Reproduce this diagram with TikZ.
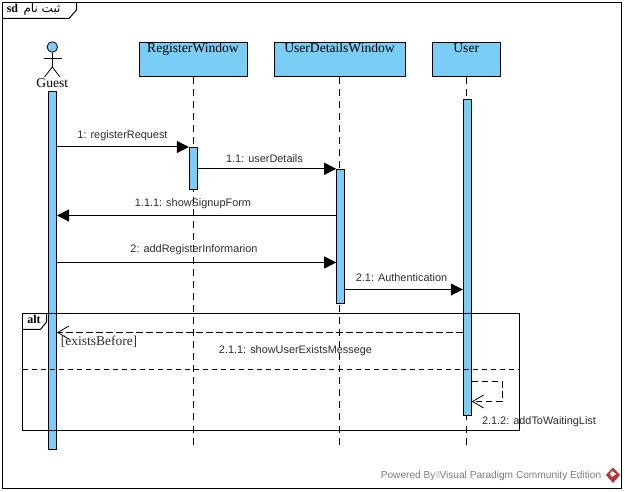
\documentclass[tikz,border=0pt]{standalone}
\usepackage{fontspec}
\setmainfont{Liberation Serif}
\setsansfont{Liberation Sans}
\newfontfamily\arabicfont[Script=Arabic]{DejaVu Sans}
\TeXXeTstate=1
\usepackage{color}
\usetikzlibrary{arrows.meta}
\definecolor{barblue}{RGB}{122,205,245}
\definecolor{msggray}{RGB}{45,45,45}
\definecolor{footgray}{RGB}{125,125,125}
\definecolor{logored}{RGB}{190,50,50}
\tikzset{
lifebox/.style={draw, fill=barblue, line width=1pt, inner xsep=0pt, inner ysep=0pt, text height=10pt, text depth=24.5pt, font=\fontsize{13.6}{14}\selectfont},
actbar/.style={draw, fill=barblue, line width=1pt, inner sep=0pt, minimum width=8pt},
lifeline/.style={line width=1pt, dash pattern=on 7pt off 5pt},
callmsg/.style={line width=1pt, -{Triangle[length=12pt,width=12pt]}},
backmsg/.style={line width=1pt, dash pattern=on 6.5pt off 3.5pt, -{Straight Barb[length=11pt,width=13pt,line width=.8pt]}},
msglabel/.style={font=\sffamily\fontsize{10.9}{12}\selectfont, text=msggray, inner sep=0pt},
}

\begin{document}
\begin{tikzpicture}[x=1pt, y=-1pt]
\useasboundingbox (0,0) rectangle (625,492);

% outer frame
\draw[line width=1pt] (2.5,2.5) rectangle (621,488);
\draw[line width=1pt] (2.5,18.5) -- (69,18.5) -- (76.5,10) -- (76.5,2.5);
\node[inner sep=0pt, font=\bfseries\fontsize{12}{13}\selectfont] (sdtag) at (12.5,8.5) {sd};
\node[inner sep=0pt, font=\fontsize{12}{13}\selectfont] (sdname) at (42,9) {\arabicfont\beginR ثبت نام\endR};

% lifelines
\node[lifebox, minimum width=108pt] (regbox) at (193,59.75) {RegisterWindow};
\node[lifebox, minimum width=131pt] (detbox) at (339.5,59.75) {UserDetailsWindow};
\node[lifebox, minimum width=67.5pt] (userbox) at (466.25,59.75) {User};
\coordinate (regend) at (193.3,449);
\coordinate (detend) at (339.3,449);
\coordinate (userend) at (466.3,449);
\draw[lifeline] (regbox.south -| regend) -- (regend);
\draw[lifeline] (detbox.south -| detend) -- (detend);
\draw[lifeline] (userbox.south -| userend) -- (userend);

% guest actor
\node[draw, fill=barblue, circle, line width=.8pt, inner sep=0pt, minimum size=10.5pt] (guesthead) at (52.3,47) {};
\coordinate (guestarml) at (43.5,58);
\coordinate (guestarmr) at (62,58);
\coordinate (guesthip) at (52.3,67);
\coordinate (guestlegl) at (44.5,77);
\coordinate (guestlegr) at (60,77);
\draw[line width=.8pt] (guesthead.south) -- (guesthip);
\draw[line width=.8pt] (guestarml) -- (guestarmr);
\draw[line width=.8pt] (guestlegl) -- (guesthip) -- (guestlegr);
\node[inner sep=0pt, font=\fontsize{13.6}{14}\selectfont] (guestname) at (52.3,83.5) {Guest};

% activation bars
\node[actbar, minimum height=357.5pt] (guestbar) at (52.5,270.25) {};
\node[actbar, minimum height=42pt] (regbar) at (193.3,168.5) {};
\node[actbar, minimum height=134pt] (detbar) at (340.7,236.3) {};
\node[actbar, minimum height=316pt] (userbar) at (467.3,257.5) {};

% messages
\draw[callmsg] (guestbar.east |- regbar.north) -- (regbar.north west);
\draw[callmsg] (regbar.east |- detbar.north) -- (detbar.north west);
\coordinate (showform) at (detbar.west |- 0,215.5);
\draw[callmsg] (showform) -- (showform -| guestbar.east);
\coordinate (addinfo) at (guestbar.east |- 0,262.5);
\draw[callmsg] (addinfo) -- (addinfo -| detbar.west);
\coordinate (authmsg) at (detbar.east |- 0,289.5);
\draw[callmsg] (authmsg) -- (authmsg -| userbar.west);
\coordinate (existsmsg) at (userbar.west |- 0,332.5);
\draw[backmsg] (existsmsg) -- (existsmsg -| guestbar.east);
\coordinate (selfa) at (userbar.east |- 0,381.5);
\coordinate (selfb) at (userbar.east |- 0,401.5);
\draw[backmsg] (selfa) -- (502,381.5) -- (502,401.5) -- (selfb);

\node[msglabel] (lbla) at (122.5,135.5) {1: registerRequest};
\node[msglabel] (lblb) at (264.5,158.5) {1.1: userDetails};
\node[msglabel] (lblc) at (193,203.5) {1.1.1: showSignupForm};
\node[msglabel] (lbld) at (194,250) {2: addRegisterInformarion};
\node[msglabel] (lble) at (401.5,277.5) {2.1: Authentication};
\node[msglabel] (lblf) at (295.5,350.5) {2.1.1: showUserExistsMessege};
\node[msglabel] (lblg) at (539,421.5) {2.1.2: addToWaitingList};

% alt fragment
\draw[line width=1pt] (22.5,313.5) rectangle (519.5,430);
\draw[line width=1pt] (22.5,329.5) -- (40.5,329.5) -- (46.5,322) -- (46.5,313.5);
\node[inner sep=0pt, font=\bfseries\fontsize{12}{13}\selectfont] (alttag) at (34,319.5) {alt};
\draw[line width=1pt, dash pattern=on 5.5pt off 3.5pt] (22.5,369.5) -- (519.5,369.5);
\node[inner sep=0pt, font=\fontsize{13.5}{14}\selectfont, text=msggray] (guardlbl) at (99,341.5) {[existsBefore]};

% footer
\node[inner sep=0pt, font=\sffamily\fontsize{10.15}{11}\selectfont, text=footgray] (footer) at (491,475.5) {Powered By{\color{black!12}\rule{4pt}{7pt}}Visual Paradigm Community Edition};
\fill[logored] (613,467.5) -- (620,475) -- (613,483) -- (606,475) -- cycle;
\fill[white] (612,471) -- (616,474) -- (612,477) -- (610,474) -- cycle;
\end{tikzpicture}
\end{document}
